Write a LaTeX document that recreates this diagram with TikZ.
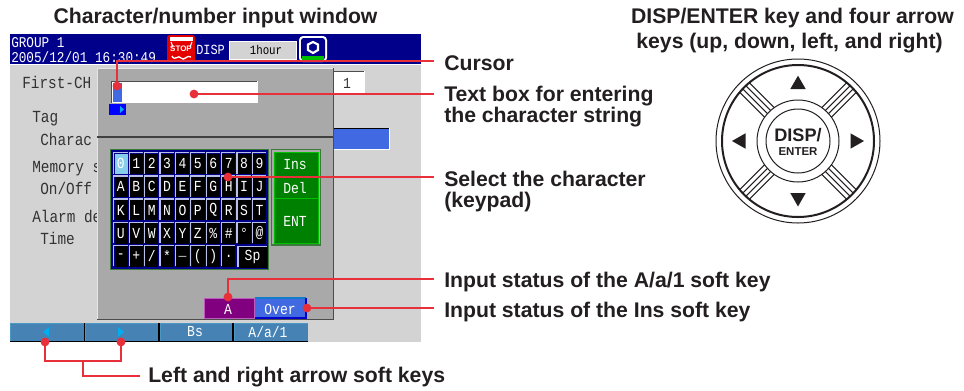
\documentclass[tikz,border=0pt]{standalone}
\usepackage{fontspec}
\setmainfont{Liberation Sans}
\newfontfamily\scrf[FakeStretch=0.85]{Liberation Mono}
\newcommand{\hdrf}{\scrf\fontsize{11.2pt}{12pt}\selectfont}
\newcommand{\lblf}{\scrf\fontsize{12.7pt}{14pt}\selectfont}
\newcommand{\keyf}{\scrf\fontsize{11.5pt}{13pt}\selectfont}
\definecolor{ln}{HTML}{E8303A}
\definecolor{ink}{HTML}{231F20}
\definecolor{scrgray}{HTML}{D3D3D3}
\definecolor{dlg}{HTML}{A9A9A9}
\definecolor{hdr}{HTML}{00008B}
\definecolor{steel}{HTML}{4682B4}
\definecolor{royal}{HTML}{4169E1}
\definecolor{grn}{HTML}{008000}
\definecolor{dgrn}{HTML}{3C7A3C}
\definecolor{purp}{HTML}{800080}
\definecolor{purpl}{HTML}{BE5ABE}
\definecolor{keyedge}{HTML}{B8C0E8}
\definecolor{zerokey}{HTML}{87CEEB}
\tikzset{
  x=0.75pt,y=-0.75pt,
  lab/.style={anchor=base west,inner sep=0pt,font=\fontsize{15.9pt}{19pt}\selectfont\bfseries,text=ink},
  titl/.style={anchor=base,inner sep=0pt,font=\fontsize{15.9pt}{19pt}\selectfont\bfseries,text=ink},
  lbl/.style={anchor=base west,inner sep=0pt,font=\lblf,text=black!80},
  hd/.style={anchor=base west,inner sep=0pt,font=\hdrf,text=white},
  kt/.style={anchor=center,inner sep=0pt,font=\keyf,text=white},
  dot/.style={circle,fill=ln,draw=none,inner sep=0pt,minimum size=6.6pt},
  rl/.style={draw=ln,line width=1pt},
  knob/.style={draw=ink,line width=0.75pt},
  tri/.style={fill=ink,draw=none},
}
\newcommand{\keyrow}[2]{%
  \foreach \c [count=\i from 0] in {#2} {
    \pgfmathsetmacro{\xa}{113+15.4*\i}
    \pgfmathsetmacro{\ya}{152+23.1*#1}
    \fill[black] (\xa+1.5,\ya+1.5) rectangle (\xa+14.6,\ya+22.2);
    \draw[line width=0.9pt,color=keyedge] (\xa+0.8,\ya+22) -- (\xa+0.8,\ya+0.8) -- (\xa+14.6,\ya+0.8);
    \node[kt] (key-#1-\i) at (\xa+7.9,\ya+11.8) {\c};
  }}
\begin{document}
\begin{tikzpicture}
\useasboundingbox (0,0) rectangle (964,390);
\fill[white] (0,0) rectangle (964,390);
% screen
\fill[scrgray] (10,34) rectangle (421,342);
\fill[hdr] (10,34) rectangle (421,64);
\draw[line width=0.5pt,color=white] (10,64.5) -- (421,64.5);
\node[hd] (grp) at (11,47.5) {GROUP 1};
\node[hd] (dt) at (11,62.5) {2005/12/01 16:30:49};
% stop icon
\fill[red!90!black,rounded corners=2pt] (167,35) rectangle (195,62);
\fill[white] (170,37) rectangle (193,41);
\draw[white,line width=0.8pt] (171,42) -- (173,47);
\draw[white,line width=0.8pt] (192,42) -- (190,47);
\node[inner sep=0pt,text=white,font=\bfseries\fontsize{6pt}{6pt}\selectfont] (stp) at (181,48.5) {STOP};
\draw[white,line width=1pt] (172,56) .. controls (175,62) and (178,54) .. (181,58) .. controls (184,62) and (187,54) .. (191,57);
\node[hd,font=\scrf\fontsize{10.5pt}{12pt}\selectfont] (disp) at (196,54) {DISP};
\draw[draw=white,fill=scrgray,line width=0.75pt] (229,41) rectangle (296,59);
\node[inner sep=0pt,font=\scrf\fontsize{9.5pt}{12pt}\selectfont,text=black] (onehr) at (266,50) {1hour};
\fill[white,rounded corners=3pt] (299,36) rectangle (327,62);
\fill[hdr,rounded corners=2pt] (301,38) rectangle (325,60);
\fill[green!75!black] (302,55.5) rectangle (324,60);
\draw[white,line width=1.6pt] (313,42) -- (318,44.5) -- (318,50) -- (313,53) -- (308,50) -- (308,44.5) -- cycle;
% background labels
\node[lbl] (t1) at (22,88) {First-CH};
\node[lbl] (t2) at (32,122) {Tag};
\node[lbl] (t3) at (40,145) {Charac};
\node[lbl] (t4) at (32,172) {Memory s};
\node[lbl] (t5) at (40,194) {On/Off};
\node[lbl] (t6) at (32,222) {Alarm de};
\node[lbl] (t7) at (40,244) {Time};
% background fields
\fill[white] (334,71) rectangle (365,93);
\draw[black!70,line width=0.75pt] (334,71.5) -- (364,71.5);
\node[inner sep=0pt,font=\keyf,text=black!80] (one) at (347,83) {1};
\fill[white] (334,128) rectangle (390,150);
\fill[royal] (334,128.5) rectangle (388.5,148.5);
\draw[black,line width=0.75pt] (334,128) -- (389,128);
% dialog
\fill[dlg] (97,68) rectangle (333.5,319);
\draw[black!10,line width=1pt] (97.5,319) -- (97.5,68.5) -- (333,68.5);
\draw[black!70,line width=1.1pt] (333.5,68) -- (333.5,319.5) -- (97,319.5);
\draw[black!75,line width=0.8pt] (97,137) -- (333,137);
% text box
\fill[white] (111,81) rectangle (258,103);
\draw[black!70,line width=1pt] (111.5,103) -- (111.5,81.7) -- (257,81.7);
\fill[royal] (112.5,83) rectangle (122,102);
\fill[blue] (109,104) rectangle (126,115);
\fill[cyan] (120,106) -- (124,109.5) -- (120,113) -- cycle;
% keypad
\draw[draw=dgrn,line width=1pt,fill=hdr] (110.5,149.5) rectangle (268.5,269.5);
\keyrow{0}{,1,2,3,4,5,6,7,8,9}
\fill[zerokey] (114.5,153.5) rectangle (127.6,174.2);
\node[kt] (key-zero) at (120.9,163.8) {0};
\keyrow{1}{A,B,C,D,E,F,G,H,I,J}
\keyrow{2}{K,L,M,N,O,P,Q,R,S,T}
\keyrow{3}{U,V,W,X,Y,Z,\%,\#,°,@}
\keyrow{4}{-,+,/,*,\_,{(},{)},.}
\fill[black] (238.7,246.9) rectangle (267,267.6);
\draw[line width=0.9pt,color=keyedge] (237.9,267.4) -- (237.9,246.2) -- (267,246.2);
\node[kt] (key-sp) at (252.5,257) {Sp};
% Ins Del ENT
\draw[draw=dgrn,line width=1pt,fill=dlg] (271.5,149.5) rectangle (320.5,245);
\fill[grn,draw=green!75!black,line width=0.75pt] (274,152) rectangle (318,198);
\fill[grn,draw=green!75!black,line width=0.75pt] (274,198) rectangle (318,243);
\node[kt] (ins) at (295,165) {Ins};
\node[kt] (del) at (295,188) {Del};
\node[kt] (ent) at (295,221) {ENT};
% status
\draw[fill=purp,draw=purpl,line width=0.75pt] (204.5,298) rectangle (254,318);
\node[kt] (sta) at (228,309) {A};
\fill[royal] (255,298) rectangle (306,318);
\draw[cyan!60!blue,line width=0.9pt] (255,298) -- (306,298);
\draw[blue!80!black,line width=0.9pt] (306,298) -- (306,318) -- (255,318);
\node[kt] (over) at (280,309) {Over};
% soft keys
\fill[black] (10,322.5) rectangle (308,342);
\foreach \a/\b in {10/83.5,85/158,159.5/232,233.5/308} {
  \fill[steel] (\a,323.5) rectangle (\b,341);
  \draw[cyan!40!steel,line width=0.75pt] (\a,323.7) -- (\b,323.7);
  \draw[cyan!40!steel,line width=0.75pt] (\a+0.5,323.7) -- (\a+0.5,341);
}
\fill[cyan] (43,332) -- (49,327) -- (49,337) -- cycle;
\fill[cyan] (124,332) -- (118,327) -- (118,337) -- cycle;
\node[kt] (bs) at (195,332) {Bs};
\node[kt] (aa) at (268,332) {A/a/1};
% connectors
\node[dot] (dcur) at (117,86) {};
\node[dot] (dbox) at (194,94) {};
\node[dot] (dkey) at (228,177) {};
\node[dot] (dsta) at (228,297) {};
\node[dot] (dins) at (307,308) {};
\node[dot] (dl) at (45,342) {};
\node[dot] (dr) at (121,342) {};
\coordinate (ecur) at (433.5,61);
\coordinate (ebox) at (433.5,94);
\coordinate (ekey) at (433.5,177);
\coordinate (esta) at (433.5,279);
\coordinate (eins) at (433.5,308);
\coordinate (jn) at (83,361);
\coordinate (eaw) at (140,376);
\draw[rl] (dcur.center) |- (ecur);
\draw[rl] (dbox.center) -- (ebox);
\draw[rl] (dkey.center) -- (ekey);
\draw[rl] (dsta.center) |- (esta);
\draw[rl] (dins.center) -- (eins);
\draw[rl] (dl.center) |- (jn) -| (dr.center);
\draw[rl] (jn) |- (eaw);
% labels
\node[titl] (h1) at (215.5,23) {Character/number input window};
\node[titl] (h2) at (792.5,23) {DISP/ENTER key and four arrow};
\node[titl] (h3) at (789.5,48) {keys (up, down, left, and right)};
\node[lab] (l1) at (444,70) {Cursor};
\node[lab] (l2) at (444,101) {Text box for entering};
\node[lab] (l3) at (444,122.7) {the character string};
\node[lab] (l4) at (444,186) {Select the character};
\node[lab] (l5) at (444,207.5) {(keypad)};
\node[lab] (l6) at (444,287) {Input status of the A/a/1 soft key};
\node[lab] (l7) at (444,317) {Input status of the Ins soft key};
\node[lab] (l8) at (148,382) {Left and right arrow soft keys};
% knob
\draw[knob] (798,141) circle (82);
\draw[knob,line width=1.5pt] (798,141) circle (76);
\draw[knob] (798,141) circle (41);
\draw[knob] (798,141) circle (32);
\foreach \ang in {45,135,225,315} {
  \begin{scope}[shift={(798,141)},rotate=\ang]
    \foreach \o in {-6.8,-2.2,2.2,6.8} {
      \draw[knob] (40.5,\o) -- (75.5,\o);
    }
  \end{scope}
}
\node[inner sep=0pt,anchor=base,text=ink,font=\bfseries\fontsize{13.6pt}{16pt}\selectfont] (kd) at (798,141) {DISP/};
\node[inner sep=0pt,anchor=base,text=ink,font=\bfseries\fontsize{8.6pt}{9pt}\selectfont] (ke) at (798,155) {ENTER};
\fill[tri] (798,75.7) -- (805.7,89) -- (790.3,89) -- cycle;
\fill[tri] (798,206.5) -- (805.7,193) -- (790.3,193) -- cycle;
\fill[tri] (732,141) -- (745.5,133.3) -- (745.5,148.7) -- cycle;
\fill[tri] (864,141) -- (850.5,133.3) -- (850.5,148.7) -- cycle;
\end{tikzpicture}
\end{document}
